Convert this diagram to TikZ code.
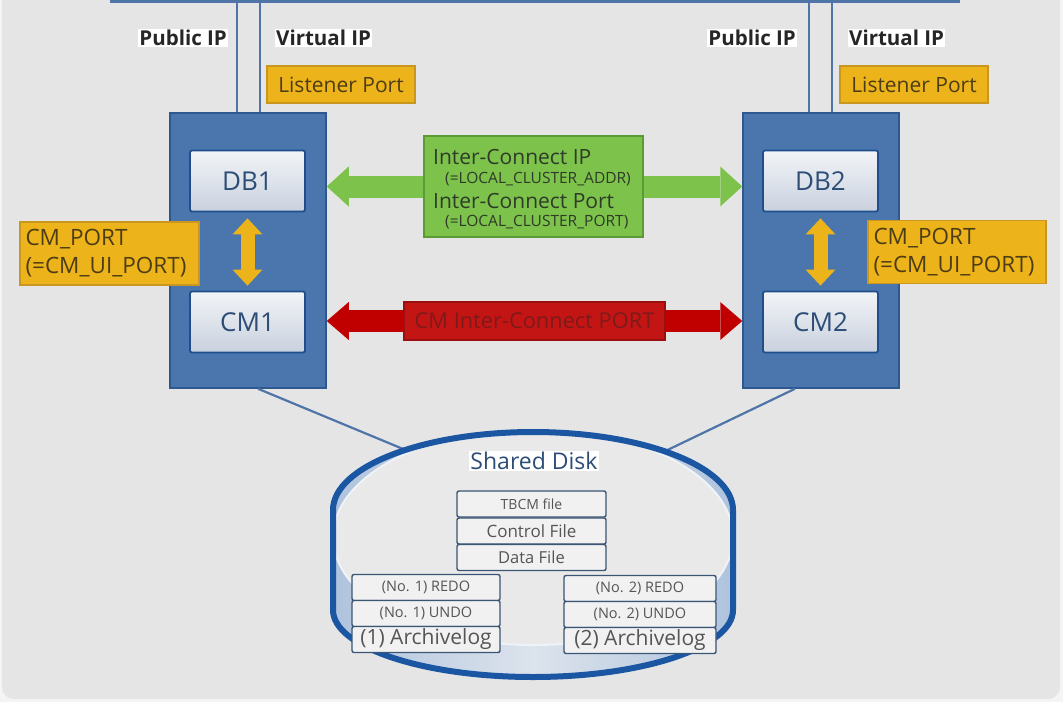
\documentclass[tikz,border=0pt]{standalone}
\usepackage{fontspec}
\setmainfont{Open Sans}
\usetikzlibrary{arrows.meta}
\definecolor{pagebg}{HTML}{F4F4F4}
\definecolor{cardbg}{HTML}{E5E5E5}
\definecolor{netblue}{HTML}{4F74A8}
\definecolor{srvfill}{HTML}{4A76AD}
\definecolor{srvdraw}{HTML}{2E5990}
\definecolor{dbfill}{HTML}{C9D1DE}
\definecolor{dbtop}{HTML}{F2F4F7}
\definecolor{dbdraw}{HTML}{1E4F8C}
\definecolor{dbtext}{HTML}{2D4D77}
\definecolor{portfill}{HTML}{EDB31A}
\definecolor{portdraw}{HTML}{C99620}
\definecolor{porttext}{HTML}{4D3D15}
\definecolor{icfill}{HTML}{7DC24B}
\definecolor{icdraw}{HTML}{5C9A36}
\definecolor{ictext}{HTML}{2E3B28}
\definecolor{cmfill}{HTML}{C41515}
\definecolor{cmdraw}{HTML}{9A1010}
\definecolor{cmtext}{HTML}{7E1A1A}
\definecolor{cmarrow}{HTML}{C00000}
\definecolor{diskrim}{HTML}{1B56A3}
\definecolor{diskside}{HTML}{AFC3DD}
\definecolor{diskmid}{HTML}{DCE3EC}
\definecolor{diskface}{HTML}{E9E9E9}
\definecolor{filedraw}{HTML}{3B5575}
\definecolor{filefill}{HTML}{F1F1F1}
\definecolor{filetext}{HTML}{555555}
\newcommand\diskoutline{(333,510) arc[start angle=180, end angle=360, x radius=200, y radius=78] -- (733,610) arc[start angle=0, end angle=180, x radius=200, y radius=67] -- cycle}

\begin{document}
\begin{tikzpicture}[x=1pt, y=-1pt,
  netline/.style={draw=netblue, line width=2.2pt},
  server/.style={draw=srvdraw, line width=1.5pt, fill=srvfill, minimum width=156pt, minimum height=275pt, inner sep=0pt},
  proc/.style={draw=dbdraw, line width=1.8pt, top color=dbtop, bottom color=dbfill, rounded corners=2pt, minimum width=115pt, minimum height=61pt, inner sep=0pt, text=dbtext, font=\fontsize{26}{30}\selectfont},
  iplabel/.style={fill=white, inner sep=1pt, text=black!85, font=\fontsize{20.5}{22}\selectfont\bfseries},
  portbox/.style={draw=portdraw, line width=1.2pt, fill=portfill, text=porttext, inner sep=0pt, font=\fontsize{21}{27}\selectfont},
  ictitle/.style={inner sep=0pt, text=ictext, font=\fontsize{21}{23}\selectfont},
  icsub/.style={inner sep=0pt, text=ictext, font=\fontsize{15.5}{17}\selectfont},
  greenarrow/.style={draw=icfill, line width=22pt, {Triangle[length=22pt, width=40pt, line width=0pt]}-{Triangle[length=22pt, width=40pt, line width=0pt]}},
  redarrow/.style={draw=cmarrow, line width=22pt, {Triangle[length=22pt, width=38pt, line width=0pt]}-{Triangle[length=22pt, width=38pt, line width=0pt]}},
  yarrow/.style={draw=portfill, line width=14pt, {Triangle[length=16pt, width=30pt, line width=0pt]}-{Triangle[length=16pt, width=30pt, line width=0pt]}},
  fbox/.style={draw=filedraw, line width=1.4pt, fill=filefill, rounded corners=2pt, minimum height=26pt, inner sep=0pt, text=filetext}]
  \useasboundingbox (0,0) rectangle (1063,702);
  \fill[pagebg] (0,0) rectangle (1063,702);
  \fill[cardbg, rounded corners=12pt] (2,-20) rectangle (1060,699);

  \coordinate (top1) at (110,1.5);
  \coordinate (top2) at (960,1.5);
  \draw[netline] (top1) -- (top2);

  \node[server] (srv1) at (248,250.5) {};
  \node[server] (srv2) at (821,250.5) {};
  \coordinate (pub1) at (237,1.5);
  \coordinate (vip1) at (260,1.5);
  \coordinate (pub2) at (809,1.5);
  \coordinate (vip2) at (832,1.5);
  \draw[netline] (pub1) -- (pub1 |- srv1.north);
  \draw[netline] (vip1) -- (vip1 |- srv1.north);
  \draw[netline] (pub2) -- (pub2 |- srv2.north);
  \draw[netline] (vip2) -- (vip2 |- srv2.north);

  \node[iplabel, anchor=east] (pubtxt1) at (228,38) {Public IP};
  \node[iplabel, anchor=west] (viptxt1) at (275,38) {Virtual IP};
  \node[iplabel, anchor=east] (pubtxt2) at (797,38) {Public IP};
  \node[iplabel, anchor=west] (viptxt2) at (848,38) {Virtual IP};

  \node[portbox, minimum width=148pt, minimum height=37pt] (lsn1) at (341,84.5) {Listener Port};
  \node[portbox, minimum width=148pt, minimum height=37pt] (lsn2) at (914,84.5) {Listener Port};

  \node[proc] (db1) at (247.5,181) {DB1};
  \node[proc] (cm1) at (247.5,322) {CM1};
  \node[proc] (db2) at (820.5,181) {DB2};
  \node[proc] (cm2) at (820.5,322) {CM2};

  \draw[yarrow] ([yshift=-6pt]db1.south) -- ([yshift=5pt]cm1.north);
  \draw[yarrow] ([yshift=-6pt]db2.south) -- ([yshift=5pt]cm2.north);

  \node[portbox, minimum width=179pt, minimum height=63pt, text width=168pt, align=left, font=\fontsize{22.5}{28}\selectfont] (cmp1) at (109.5,253.5) {CM\_PORT\\(=CM\_UI\_PORT)};
  \node[portbox, minimum width=178pt, minimum height=63pt, text width=167pt, align=left, font=\fontsize{22.5}{28}\selectfont] (cmp2) at (957,252) {CM\_PORT\\(=CM\_UI\_PORT)};

  \coordinate (icmid) at (533.5,186.5);
  \coordinate (cmmid) at (534.5,321);
  \draw[greenarrow] (srv1.east |- icmid) -- (srv2.west |- icmid);
  \draw[redarrow] (srv1.east |- cmmid) -- (srv2.west |- cmmid);
  \node[draw=icdraw, line width=1.2pt, fill=icfill, minimum width=219pt, minimum height=101pt, inner sep=0pt] (icbox) at (icmid) {};
  \node[ictitle, anchor=west] (icip) at (433,157) {Inter-Connect IP};
  \node[icsub, anchor=west] (icaddr) at (445,179) {(=LOCAL\_CLUSTER\_ADDR)};
  \node[ictitle, anchor=west] (icport) at (433,201) {Inter-Connect Port};
  \node[icsub, anchor=west] (icpnum) at (445,222) {(=LOCAL\_CLUSTER\_PORT)};
  \node[draw=cmdraw, line width=1.2pt, fill=cmfill, minimum width=261pt, minimum height=38pt, inner sep=0pt, text=cmtext, font=\fontsize{21.8}{24}\selectfont] (cmbox) at (cmmid) {CM Inter-Connect PORT};

  \coordinate (dk1) at (420,456);
  \coordinate (dk2) at (655,456);
  \draw[netline] ([xshift=10pt]srv1.south) -- (dk1);
  \draw[netline] ([xshift=-26pt]srv2.south) -- (dk2);

  \shade[left color=diskside, right color=diskside, middle color=diskmid] \diskoutline;
  \begin{scope}
    \clip \diskoutline;
    \fill[diskface] (533,537) ellipse[x radius=200, y radius=108];
    \draw[white!80!diskside, line width=2pt] (533,537) ellipse[x radius=200, y radius=108];
  \end{scope}
  \draw[diskrim, line width=6pt] \diskoutline;

  \node[fill=white, inner sep=1pt, text=dbtext, font=\fontsize{23}{25}\selectfont] (shared) at (534,461) {Shared Disk};

  \node[fbox, minimum width=149pt, font=\fontsize{14}{16}\selectfont] (tbcm) at (531.5,504) {TBCM file};
  \node[fbox, minimum width=149pt, font=\fontsize{17}{19}\selectfont] (ctl) at (531.5,531) {Control File};
  \node[fbox, minimum width=149pt, font=\fontsize{16.5}{18}\selectfont] (dat) at (531.5,557.5) {Data File};
  \node[fbox, minimum width=148pt, font=\fontsize{14.5}{16}\selectfont] (redo1) at (426,587.5) {(No. 1) REDO};
  \node[fbox, minimum width=148pt, font=\fontsize{14.5}{16}\selectfont] (undo1) at (426,613.5) {(No. 1) UNDO};
  \node[fbox, minimum width=148pt, font=\fontsize{21}{23}\selectfont] (arch1) at (426,639.5) {(1) Archivelog};
  \node[fbox, minimum width=152pt, font=\fontsize{14.5}{16}\selectfont] (redo2) at (640,588.5) {(No. 2) REDO};
  \node[fbox, minimum width=152pt, font=\fontsize{14.5}{16}\selectfont] (undo2) at (640,614.5) {(No. 2) UNDO};
  \node[fbox, minimum width=152pt, font=\fontsize{21}{23}\selectfont] (arch2) at (640,640.5) {(2) Archivelog};
\end{tikzpicture}
\end{document}
